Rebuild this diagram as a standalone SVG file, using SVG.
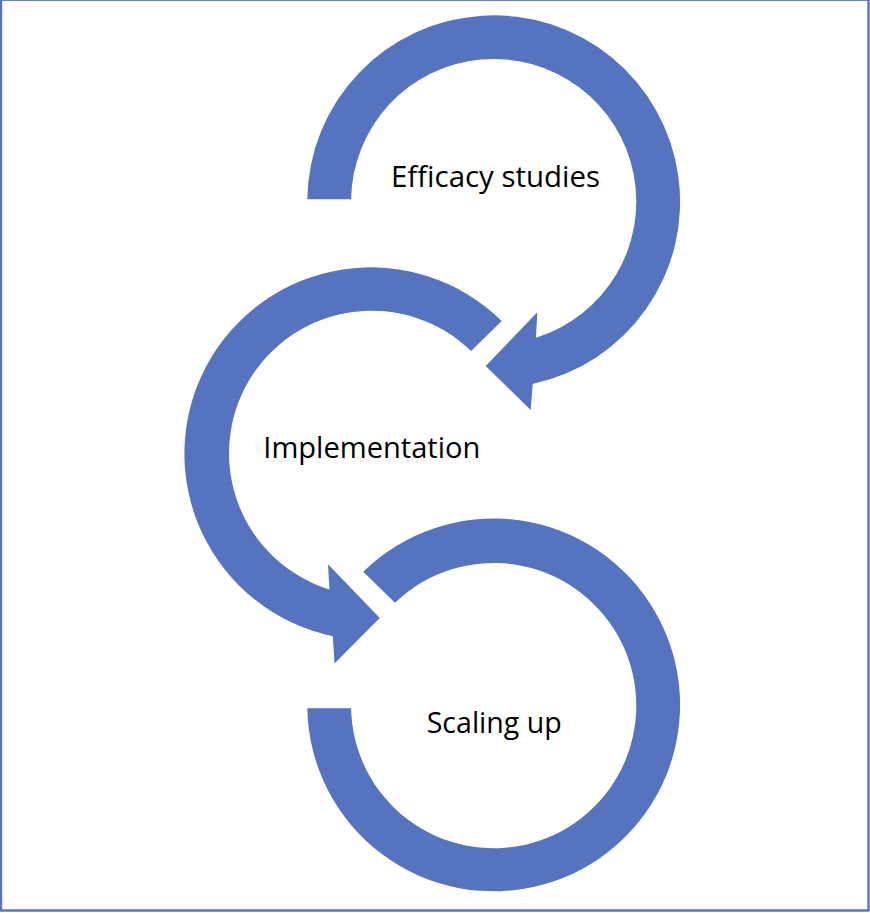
<svg xmlns="http://www.w3.org/2000/svg" width="870" height="913" viewBox="0 0 870 913">
  <style>
    .arrow { fill: #5673C0; stroke: none; }
    .label { font-family: "Open Sans", "DejaVu Sans", sans-serif; font-size: 29.5px; fill: #000000; }
    .frame { fill: #FFFFFF; stroke: #5673C0; stroke-width: 2.4; }
  </style>
  <rect class="frame" x="1" y="-0.3" width="867.5" height="910.8"/>
  <g id="connectors">
    <path id="arrow-efficacy" class="arrow" d="M 307.3,199.3 A 186.4 186.4 0 1 1 532.7,384 L 530.7,410 L 485.7,366 L 537.3,312.3 L 536,337.7 A 142.6 142.6 0 1 0 351.1,199.3 Z"/>
    <path id="arrow-implementation" class="arrow" d="M 501.7,321 A 186.4 186.4 0 1 0 332.8,636.2 L 334.5,663.5 L 379.8,618 L 328,564.3 L 329.5,589.5 A 142.6 142.6 0 1 1 471,351 Z"/>
    <path id="arc-scaling" class="arrow" d="M 363.3,571.7 A 186.4 186.4 0 1 1 307.3,708.3 L 351.1,708.3 A 142.6 142.6 0 1 0 395,602.7 Z"/>
  </g>
  <g id="node-efficacy">
    <text class="label" x="391" y="187.3" textLength="209" lengthAdjust="spacingAndGlyphs">Efficacy studies</text>
  </g>
  <g id="node-implementation">
    <text class="label" x="263.3" y="458.3" textLength="217" lengthAdjust="spacingAndGlyphs">Implementation</text>
  </g>
  <g id="node-scaling">
    <text class="label" x="426.7" y="733.3" textLength="135" lengthAdjust="spacingAndGlyphs">Scaling up</text>
  </g>
</svg>
